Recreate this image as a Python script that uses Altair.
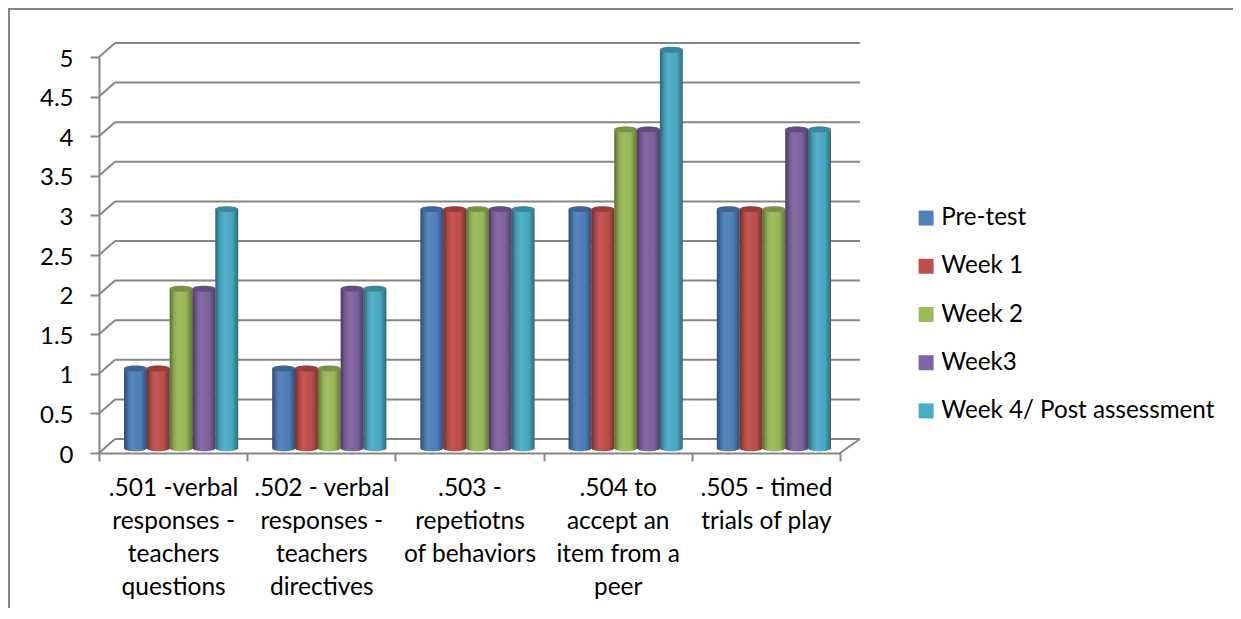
import altair as alt
import pandas as pd

categories = [".501 -verbal|responses -|teachers|questions",
              ".502 - verbal|responses -|teachers|directives",
              ".503 -|repetiotns|of behaviors",
              ".504 to|accept an|item from a|peer",
              ".505 - timed|trials of play"]
series = ["Pre-test", "Week 1", "Week 2", "Week3", "Week 4/ Post assessment"]
colors = ["#4F81BD", "#C0504D", "#9BBB59", "#8064A2", "#4BACC6"]
pre_test = [1, 1, 3, 3, 3]
week1 = [1, 1, 3, 3, 3]
week2 = [2, 1, 3, 4, 3]
week3 = [2, 2, 3, 4, 4]
week4 = [3, 2, 3, 5, 4]
ticks = [0, 0.5, 1, 1.5, 2, 2.5, 3, 3.5, 4, 4.5, 5]

rows = []
for s, vals in zip(series, [pre_test, week1, week2, week3, week4]):
    for c, v in zip(categories, vals):
        rows.append({"cat": c, "series": s, "value": v})
df = pd.DataFrame(rows)
tick_df = pd.DataFrame({"v": ticks})
cat_df = pd.DataFrame({"cat": categories, "v": [0] * 5})

FONT = "Lato"
GREY = "#868686"
WALL_DX, WALL_DY = 16, -14
PLOT_W, PLOT_H = 741, 445

# ---- frame, walls and axes (own scales)
y_axis_scale = alt.Scale(domain=[0, 5], range=[PLOT_H, 49])
y_axis = alt.Axis(values=ticks, format="~g", labelFont=FONT, labelFontSize=24,
                  labelColor="#000000", labelPadding=17, labelOffset=2, tickSize=9, tickWidth=2,
                  tickColor=GREY, domainColor=GREY, domainWidth=2, grid=False, title=None)
grid = alt.Chart(tick_df).mark_rule(color=GREY, strokeWidth=2, yOffset=WALL_DY).encode(
    y=alt.Y("v:Q", scale=y_axis_scale, axis=y_axis, title=None),
    x=alt.value(WALL_DX), x2=alt.value(761))
side = alt.Chart(tick_df).mark_rule(color=GREY, strokeWidth=2, y2Offset=WALL_DY).encode(
    y=alt.Y("v:Q", scale=y_axis_scale, axis=y_axis, title=None),
    y2="v:Q", x=alt.value(0), x2=alt.value(WALL_DX))
floor = alt.Chart(cat_df.head(1)).mark_rule(color=GREY, strokeWidth=2, y2Offset=WALL_DY).encode(
    y=alt.Y("v:Q", scale=y_axis_scale, axis=y_axis, title=None),
    y2="v:Q", x=alt.value(PLOT_W), x2=alt.value(761))
carrier = alt.Chart(cat_df).mark_tick(opacity=0).encode(
    x=alt.X("cat:N", sort=categories, title=None,
            scale=alt.Scale(domain=categories, paddingInner=0, paddingOuter=0),
            axis=alt.Axis(labelExpr="split(datum.label, '|')", labelAngle=0, labelFont=FONT,
                          labelFontSize=24.5, labelColor="#000000", labelLineHeight=33,
                          labelPadding=15, labelBaseline="top", labelLimit=300, labelOverlap=False,
                          tickBand="extent", tickSize=8, tickWidth=2, tickColor=GREY,
                          domainColor=GREY, domainWidth=2, grid=False)),
    y=alt.Y("v:Q", scale=y_axis_scale, axis=y_axis, title=None))
frame_top = alt.Chart(cat_df.head(1)).mark_rule(color=GREY, strokeWidth=2).encode(
    x=alt.value(-91), x2=alt.value(1134), y=alt.value(1))
frame_left = alt.Chart(cat_df.head(1)).mark_rule(color=GREY, strokeWidth=2).encode(
    x=alt.value(-90), y=alt.value(0), y2=alt.value(600))
back = alt.layer(frame_top, frame_left, grid, side, floor, carrier)

# ---- cylinders (own scales)
x_enc = alt.X("cat:N", sort=categories, axis=None,
              scale=alt.Scale(domain=categories, range=[8, 749],
                              paddingInner=0.23, paddingOuter=0.115))
xo_enc = alt.XOffset("series:N", sort=series, scale=alt.Scale(domain=series))
y_enc = alt.Y("value:Q", axis=None, scale=alt.Scale(domain=[0, 5], range=[440.2, 41.7]))
y0_enc = alt.Y("zero:Q", axis=None, scale=alt.Scale(domain=[0, 5], range=[440.2, 41.7]))
col_enc = alt.Color("series:N", sort=series,
                    scale=alt.Scale(domain=series, range=colors),
                    legend=alt.Legend(title=None, orient="none", legendX=815, legendY=198,
                                      symbolType="square", symbolSize=225, symbolStrokeWidth=0,
                                      labelFont=FONT, labelFontSize=24.2, labelColor="#000000",
                                      labelOffset=3, rowPadding=23.2, labelLimit=400))

shade = alt.Gradient(gradient="linear", x1=0, x2=1, y1=0, y2=0, stops=[
    alt.GradientStop(offset=0, color="rgba(0,0,0,0.42)"),
    alt.GradientStop(offset=0.18, color="rgba(0,0,0,0.12)"),
    alt.GradientStop(offset=0.42, color="rgba(255,255,255,0.04)"),
    alt.GradientStop(offset=0.72, color="rgba(0,0,0,0.02)"),
    alt.GradientStop(offset=1, color="rgba(0,0,0,0.38)")])
ellipse = "M-1,0A1,0.26 0 1 1 1,0A1,0.26 0 1 1 -1,0Z"
SIZE = 520

base = alt.Chart(df).transform_calculate(zero="0")
bottom = base.mark_point(shape=ellipse, filled=True, opacity=1, size=SIZE).encode(
    x=x_enc, xOffset=xo_enc, y=y0_enc, color=col_enc)
bottom_shade = base.mark_point(shape=ellipse, filled=True, opacity=1, size=SIZE, fill=shade, strokeWidth=0).encode(
    x=x_enc, xOffset=xo_enc, y=y0_enc)
body = base.mark_bar().encode(x=x_enc, xOffset=xo_enc, y=y_enc, color=col_enc)
body_shade = base.mark_bar(fill=shade).encode(x=x_enc, xOffset=xo_enc, y=y_enc)
cap = base.mark_point(shape=ellipse, filled=True, opacity=1, size=SIZE).encode(
    x=x_enc, xOffset=xo_enc, y=y_enc, color=col_enc)
cap_shade = base.mark_point(shape=ellipse, filled=True, size=SIZE, color="#000000", opacity=0.22).encode(
    x=x_enc, xOffset=xo_enc, y=y_enc)
cylinders = alt.layer(bottom, bottom_shade, body, body_shade, cap, cap_shade)

chart = alt.layer(back, cylinders).resolve_scale(x="independent", y="independent").properties(
    width=PLOT_W, height=PLOT_H,
    autosize=alt.AutoSizeParams(type="none"),
    padding={"left": 91, "top": 0, "right": 393, "bottom": 155},
    background="#ffffff",
).configure_view(stroke=None)

chart.save("out.html", embed_options={"renderer": "svg", "actions": False})
